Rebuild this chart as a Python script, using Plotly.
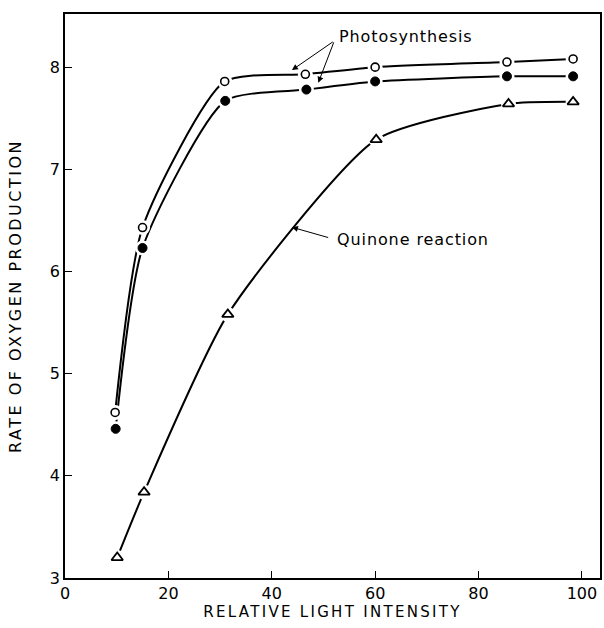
import plotly.graph_objects as go

# Data
photo_open_x = [9.7, 15.0, 30.9, 46.5, 60.0, 85.5, 98.3]
photo_open_y = [4.62, 6.43, 7.86, 7.93, 8.00, 8.05, 8.08]

photo_filled_x = [9.8, 15.0, 31.0, 46.7, 60.0, 85.5, 98.3]
photo_filled_y = [4.46, 6.23, 7.67, 7.78, 7.86, 7.91, 7.91]

quinone_x = [10.1, 15.3, 31.5, 60.2, 85.8, 98.3]
quinone_y = [3.20, 3.84, 5.58, 7.29, 7.64, 7.66]

x_ticks = [0, 20, 40, 60, 80, 100]
y_ticks = [3, 4, 5, 6, 7, 8]

FONT = "DejaVu Sans"
series = [
    (photo_open_x, photo_open_y, dict(symbol="circle", size=8, color="white",
                                      line=dict(color="black", width=1.6))),
    (photo_filled_x, photo_filled_y, dict(symbol="circle", size=9, color="black",
                                          line=dict(color="black", width=1))),
    (quinone_x, quinone_y, dict(symbol="triangle-up-open", size=10, color="black",
                                line=dict(color="black", width=1.8))),
]

fig = go.Figure()
# curves
for xs, ys, m in series:
    fig.add_trace(go.Scatter(x=xs, y=ys, mode="lines",
                             line=dict(color="black", width=2, shape="spline", smoothing=0.6),
                             showlegend=False, hoverinfo="skip"))
# white gaps around markers
for xs, ys, m in series:
    fig.add_trace(go.Scatter(x=xs, y=ys, mode="markers",
                             marker=dict(symbol="circle", size=15, color="white"),
                             showlegend=False, hoverinfo="skip"))
# markers
for xs, ys, m in series:
    fig.add_trace(go.Scatter(x=xs, y=ys, mode="markers", marker=m, showlegend=False))

annots = [
    dict(x=65.9, y=8.303, text="Photosynthesis", showarrow=False),
    dict(x=67.3, y=6.309, text="Quinone reaction", showarrow=False),
    dict(x=43.9, y=7.971, ax=52.1, ay=8.257),
    dict(x=49.0, y=7.847, ax=52.1, ay=8.257),
    dict(x=43.9, y=6.433, ax=51.2, ay=6.328),
]
for a in annots:
    if a.get("showarrow") is False:
        fig.add_annotation(x=a["x"], y=a["y"], xref="x", yref="y", text=a["text"],
                           showarrow=False, font=dict(family=FONT, size=16, color="black"))
    else:
        fig.add_annotation(x=a["x"], y=a["y"], ax=a["ax"], ay=a["ay"], xref="x", yref="y",
                           axref="x", ayref="y", text="", showarrow=True,
                           arrowhead=2, arrowsize=1.2, arrowwidth=1, arrowcolor="black",
                           standoff=0, startstandoff=0)

axis_common = dict(showgrid=False, zeroline=False, showline=True, linecolor="black",
                   linewidth=1.5, mirror=True, ticks="inside", ticklen=7, tickwidth=1.3,
                   tickcolor="black", automargin=False,
                   tickfont=dict(family=FONT, size=16, color="black"))

fig.update_xaxes(range=[0, 103.5], tickvals=x_ticks,
                 title=dict(text="RELATIVE LIGHT INTENSITY",
                            font=dict(family=FONT, size=15, color="black"), standoff=5),
                 **axis_common)
fig.update_yaxes(range=[3, 8.52], tickvals=y_ticks,
                 title=dict(text="RATE OF OXYGEN PRODUCTION",
                            font=dict(family=FONT, size=16, color="black"), standoff=24),
                 **axis_common)

fig.update_layout(width=604, height=628, plot_bgcolor="white", paper_bgcolor="white",
                  margin=dict(l=65, r=4, t=14, b=50), font=dict(family=FONT, color="black"))

fig.write_html("out.html", config={"displayModeBar": False})
css = ("<style>body{margin:0;padding:0;}"
       ".g-xtitle text{letter-spacing:2.3px;}"
       ".g-ytitle text{letter-spacing:2.5px;}"
       ".annotation-text{letter-spacing:0.9px;}</style>")
with open("out.html", "r", encoding="utf-8") as f:
    html = f.read()
html = html.replace("</head>", css + "</head>", 1)
html = html.replace("<body>", '<body style="margin:0;padding:0;">', 1)
with open("out.html", "w", encoding="utf-8") as f:
    f.write(html)
